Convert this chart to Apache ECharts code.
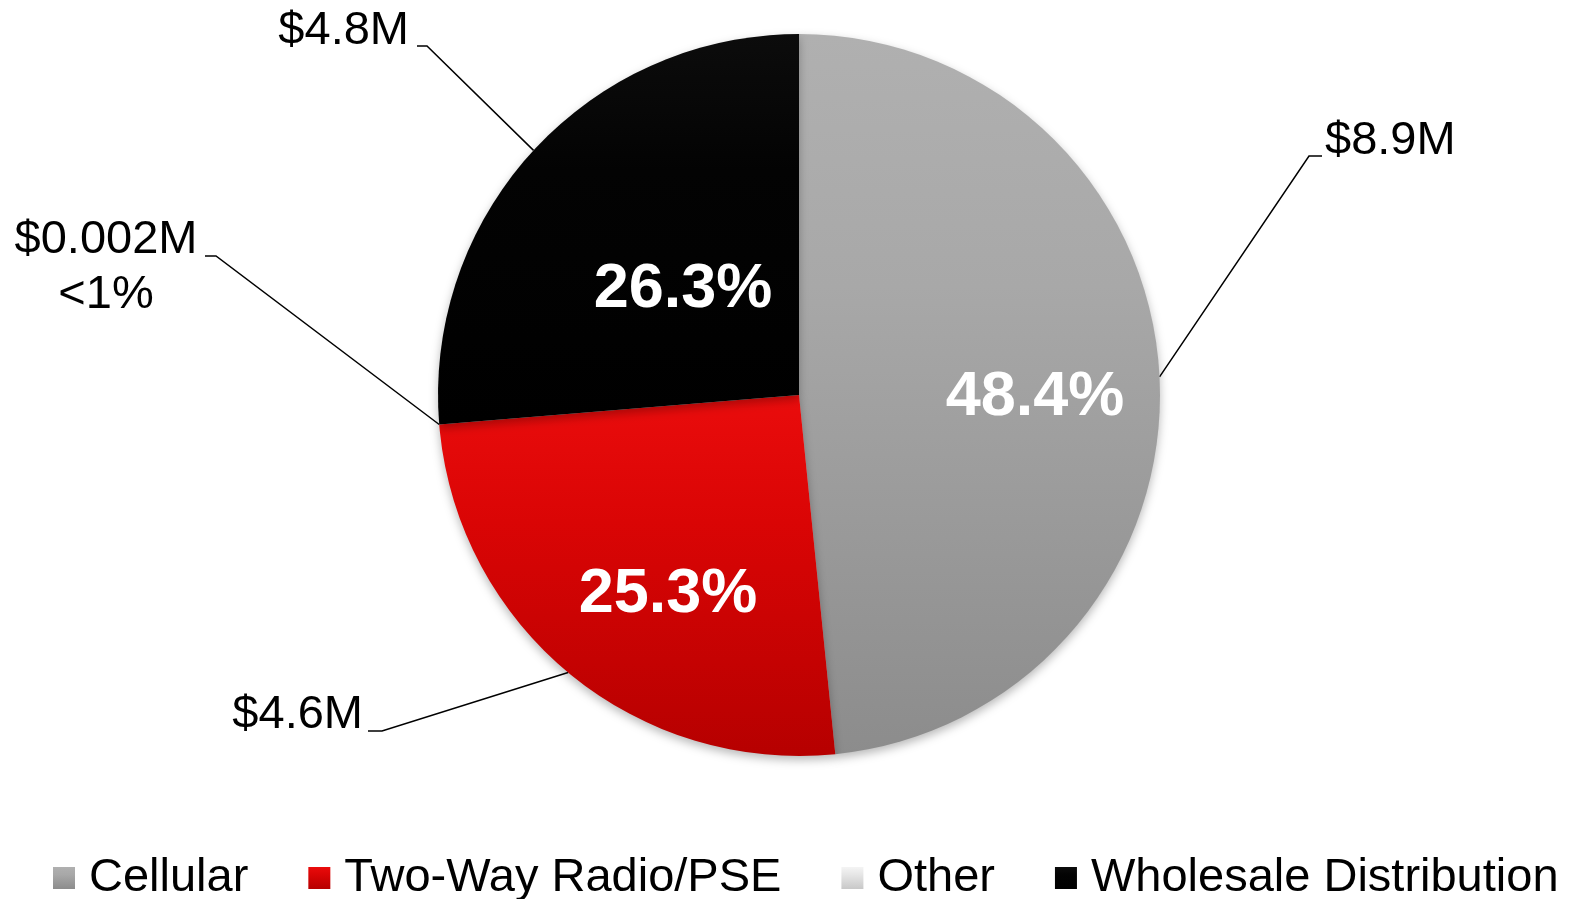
<!DOCTYPE html>
<html>
<head>
<meta charset="utf-8">
<title>Revenue mix</title>
<script src="https://cdn.jsdelivr.net/npm/echarts@6/dist/echarts.min.js"></script>
<style>
  html, body { margin: 0; padding: 0; background: #fff; }
  #chart { width: 1569px; height: 899px; }
</style>
</head>
<body>
<div id="chart"></div>
<script>
const categories = ['Cellular', 'Two-Way Radio/PSE', 'Other', 'Wholesale Distribution']
const shares = [48.4, 25.3, 0.01, 26.3]
const shareLabels = ['48.4%', '25.3%', '', '26.3%']
const amountLabels = ['$8.9M', '$4.6M', '$0.002M\n<1%', '$4.8M']

const FONT = '"Liberation Sans", Arial, sans-serif'

// shaded fills, light at the top, darker toward the bottom
const fills = [
  ['#b0b0b0', '#a8a8a8', '#8c8c8c'],
  ['#ea0c0c', '#da0505', '#b60000'],
  ['#f4f4f4', '#e6e6e6', '#c8c8c8'],
  ['#0c0c0c', '#030303', '#000000']
]
const grad = (c) => new echarts.graphic.LinearGradient(0, 0, 0, 1, [
  { offset: 0, color: c[0] },
  { offset: 0.35, color: c[1] },
  { offset: 1, color: c[2] }
])

// where Excel put the labels (pixel spots in the 1569x899 frame)
const innerSpots = [[1035, 398], [668, 595], null, [683, 290]]
const outerSpots = [
  { x: 1325, y: 141, align: 'left', bend: [[1309, 156], [1322, 156]] },
  { x: 363, y: 715, align: 'right', bend: [[382, 731], [368, 731]] },
  { x: 106, y: 268, align: 'center', bend: [[216, 256], [205, 256]] },
  { x: 409, y: 31, align: 'right', bend: [[427, 46], [417, 46]] }
]

const center = [799, 395]
const radius = 361

const chart = echarts.init(document.getElementById('chart'))

const option = {
  animation: false,
  legend: {
    data: categories,
    left: 48,
    top: 847,
    width: 1521,
    icon: 'rect',
    itemWidth: 22,
    itemHeight: 22,
    itemGap: 60,
    selectedMode: false,
    textStyle: {
      fontFamily: FONT,
      fontSize: 47,
      lineHeight: 52,
      color: '#000',
      padding: [0, 0, 0, 9]
    }
  },
  series: [
    {
      name: 'share',
      type: 'pie',
      center,
      radius,
      startAngle: 90,
      clockwise: true,
      avoidLabelOverlap: false,
      data: categories.map((name, i) => ({
        name,
        value: shares[i],
        itemStyle: { color: grad(fills[i]) },
        label: { show: shareLabels[i] !== '' }
      })),
      itemStyle: {
        borderWidth: 0,
        shadowBlur: 10,
        shadowOffsetY: 4,
        shadowColor: 'rgba(0,0,0,0.28)'
      },
      label: {
        position: 'inside',
        formatter: (p) => shareLabels[p.dataIndex],
        fontFamily: FONT,
        fontWeight: 'bold',
        fontSize: 63,
        color: '#fff'
      },
      labelLine: { show: false },
      labelLayout: (p) => {
        const s = innerSpots[p.dataIndex]
        if (!s) return {}
        return { x: s[0], y: s[1], align: 'center', verticalAlign: 'middle' }
      },
      emphasis: { disabled: true }
    },
    {
      name: 'amount',
      type: 'pie',
      center,
      radius,
      startAngle: 90,
      clockwise: true,
      silent: true,
      avoidLabelOverlap: false,
      data: categories.map((name, i) => ({ name, value: shares[i] })),
      itemStyle: { color: 'rgba(0,0,0,0)', borderWidth: 0 },
      label: {
        position: 'outside',
        formatter: (p) => amountLabels[p.dataIndex],
        fontFamily: FONT,
        fontSize: 47,
        lineHeight: 55,
        color: '#000',
        align: 'center'
      },
      labelLine: {
        show: true,
        smooth: false,
        lineStyle: { color: '#000', width: 1.5 }
      },
      labelLayout: (p) => {
        const s = outerSpots[p.dataIndex]
        let start = p.labelLinePoints && p.labelLinePoints[0]
        if (!start) start = center
        return {
          x: s.x,
          y: s.y,
          align: s.align,
          verticalAlign: 'middle',
          labelLinePoints: [start, s.bend[0], s.bend[1]]
        }
      },
      emphasis: { disabled: true }
    }
  ]
}

chart.setOption(option)

window.addEventListener('resize', () => {
  chart.resize()
})
</script>
</body>
</html>
